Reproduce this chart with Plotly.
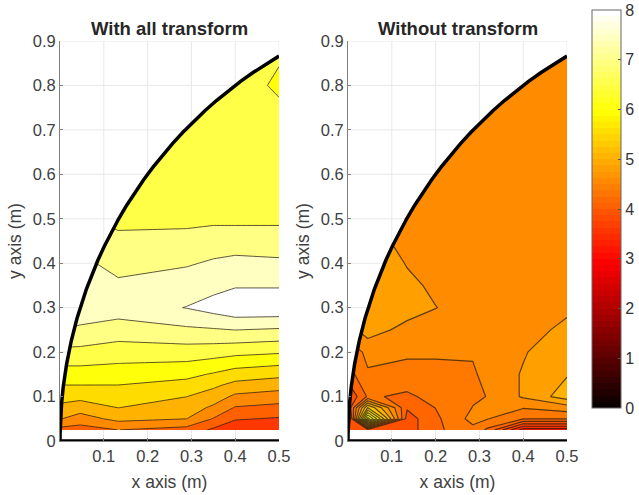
import numpy as np
import plotly.graph_objects as go

# ---------- data ----------
left_x = [0, 0.046, 0.133, 0.289, 0.35, 0.4, 0.5]
left_y = [0.025, 0.05, 0.075, 0.1, 0.125, 0.15, 0.175, 0.2, 0.225, 0.25, 0.3, 0.35, 0.4, 0.45, 0.5, 0.6, 0.7, 0.8, 0.9]
left_z = [
    [4.2, 4.15, 4.36, 4.17, 3.8, 3.54, 3.45],
    [4.85, 4.61, 4.96, 4.83, 4.33, 3.93, 3.84],
    [5.18, 5.05, 5.30, 5.06, 4.74, 4.32, 4.21],
    [5.47, 5.43, 5.53, 5.30, 5.07, 4.73, 4.61],
    [5.755, 5.755, 5.755, 5.6, 5.38, 5.14, 5.01],
    [6.03, 6.03, 6.0, 5.89, 5.72, 5.55, 5.42],
    [6.3, 6.3, 6.24, 6.19, 6.08, 5.95, 5.85],
    [6.6, 6.57, 6.47, 6.49, 6.44, 6.37, 6.29],
    [6.85, 6.84, 6.715, 6.79, 6.79, 6.78, 6.71],
    [7.18, 7.11, 6.96, 7.09, 7.13, 7.18, 7.12],
    [7.4, 7.4, 7.4, 7.66, 7.83, 8.0, 8.0],
    [7.5, 7.5, 7.27, 7.4, 7.5, 7.6, 7.6],
    [7.4, 7.3, 7.0, 7.13, 7.23, 7.3, 7.25],
    [7.2, 7.1, 6.8, 6.9, 6.95, 6.95, 6.95],
    [7.0, 6.72, 6.6, 6.55, 6.6, 6.6, 6.6],
    [6.5, 6.47, 6.47, 6.47, 6.47, 6.47, 6.47],
    [6.47, 6.47, 6.47, 6.47, 6.47, 6.47, 6.47],
    [6.47, 6.47, 6.47, 6.47, 6.47, 6.47, 6.15],
    [6.47, 6.47, 6.47, 6.47, 6.47, 6.47, 6.35],
]

right_x = [0, 0.045, 0.135, 0.2, 0.285, 0.32, 0.4, 0.5]
right_y = [0.025, 0.05, 0.075, 0.1, 0.15, 0.2, 0.25, 0.3, 0.35, 0.4, 0.5, 0.6, 0.7, 0.8, 0.9]
right_z = [
    [3.9, 4.0, 4.0, 4.25, 4.44, 4.25, 3.4, 3.4],
    [3.6, 6.2, 4.0, 4.25, 4.56, 4.5, 4.3, 4.3],
    [3.9, 5.3, 4.12, 4.3, 4.5, 4.55, 4.51, 4.6],
    [3.9, 4.32, 4.26, 4.36, 4.47, 4.5, 4.72, 5.0],
    [4.2, 4.48, 4.42, 4.42, 4.46, 4.58, 4.71, 4.88],
    [4.4, 4.53, 4.53, 4.53, 4.52, 4.6, 4.68, 4.82],
    [4.6, 4.8, 4.62, 4.58, 4.58, 4.6, 4.62, 4.74],
    [4.8, 4.9, 4.8, 4.7, 4.6, 4.6, 4.58, 4.66],
    [4.8, 4.9, 4.75, 4.65, 4.6, 4.6, 4.6, 4.6],
    [4.8, 4.9, 4.68, 4.6, 4.6, 4.6, 4.6, 4.6],
    [4.75, 4.72, 4.6, 4.6, 4.6, 4.6, 4.6, 4.6],
    [4.6, 4.6, 4.6, 4.6, 4.6, 4.6, 4.6, 4.6],
    [4.6, 4.6, 4.6, 4.6, 4.6, 4.6, 4.6, 4.6],
    [4.6, 4.6, 4.6, 4.6, 4.6, 4.6, 4.6, 4.6],
    [4.6, 4.6, 4.6, 4.6, 4.6, 4.6, 4.6, 4.6],
]

arc_x = [0, 0.00015, 0.00061, 0.00137, 0.00381, 0.00745, 0.01519, 0.02563, 0.03874, 0.06031,
         0.07282, 0.08645, 0.10121, 0.11705, 0.13397, 0.15195, 0.17096, 0.19098, 0.21199, 0.23396,
         0.25686, 0.28066, 0.30534, 0.33087, 0.35721, 0.38434, 0.41221, 0.44081, 0.47008, 0.5]
arc_y = [0, 0.01745, 0.0349, 0.05234, 0.08716, 0.12187, 0.17365, 0.22495, 0.27564, 0.34202,
         0.37461, 0.40674, 0.43837, 0.46947, 0.5, 0.52992, 0.55919, 0.58779, 0.61566, 0.64279,
         0.66913, 0.69466, 0.71934, 0.74314, 0.76604, 0.78801, 0.80902, 0.82904, 0.84805, 0.86603]

x_ticks = [0.1, 0.2, 0.3, 0.4, 0.5]
y_ticks = [0, 0.1, 0.2, 0.3, 0.4, 0.5, 0.6, 0.7, 0.8, 0.9]
y_labels = ["0", "0.1", "0.2", "0.3", "0.4", "0.5", "0.6", "0.7", "0.8", "0.9"]
cbar_ticks = [0, 1, 2, 3, 4, 5, 6, 7, 8]
titles = ["With all transform", "Without transform"]
x_label = "x axis (m)"
y_label = "y axis (m)"

# ---------- styling ----------
W, H = 639, 495
FONT = "Liberation Sans"
TXT = "#404040"
GRID = "#e8e8e8"


def hot(v):
    r = min(1, v / 3)
    g = min(1, max(0, (v - 3) / 3))
    b = min(1, max(0, (v - 6) / 2))
    return f"rgb({round(r*255)},{round(g*255)},{round(b*255)})"


def band_scale(start, size, n_levels, pivot, target, gain):
    """Band colours: the band centred on `pivot` takes hot(target); others spread by `gain`."""
    nc = n_levels
    return [[i / nc, hot(target + (start + (i - 0.5) * size - pivot) * gain)] for i in range(nc + 1)]


def stepped_hot(n=64):
    out = []
    for i in range(n):
        c = hot(8 * (i + 1) / n)
        out += [[i / n, c], [(i + 1) / n, c]]
    return out


fig = go.Figure()

panels = [
    dict(x=left_x, y=left_y, z=left_z, start=3.885, size=0.47, n=9,
         pivot=3.65, target=3.65, gain=1.03, lw=1.0, xa="x", ya="y"),
    dict(x=right_x, y=right_y, z=right_z, start=3.295, size=0.2, n=15,
         pivot=4.595, target=4.65, gain=1.15, lw=1.2, xa="x2", ya="y2"),
]

for p in panels:
    fig.add_trace(go.Contour(
        x=p["x"], y=p["y"], z=p["z"], xaxis=p["xa"], yaxis=p["ya"],
        autocontour=False,
        contours=dict(start=p["start"], end=p["start"] + p["size"] * (p["n"] - 1) + 0.005,
                      size=p["size"], coloring="fill", showlines=True),
        colorscale=band_scale(p["start"], p["size"], p["n"], p["pivot"], p["target"], p["gain"]),
        line=dict(color="rgba(40,30,20,0.75)", width=p["lw"], smoothing=0),
        showscale=False, hoverinfo="skip",
    ))
    # white mask outside the arc
    fig.add_trace(go.Scatter(
        x=arc_x + [0.5, 0, 0], y=arc_y + [0.9, 0.9, 0], xaxis=p["xa"], yaxis=p["ya"],
        mode="lines", fill="toself", fillcolor="white", line=dict(width=0),
        hoverinfo="skip", showlegend=False,
    ))
    # grid lines in the masked region, derived from the ticks and the arc
    gx, gy = [], []
    for t in x_ticks:
        gx += [t, t, None]
        gy += [float(np.interp(t, arc_x, arc_y)), 0.9, None]
    for t in y_ticks[1:]:
        gx += [0, float(np.interp(t, arc_y, arc_x)) if t <= arc_y[-1] else 0.5, None]
        gy += [t, t, None]
    fig.add_trace(go.Scatter(
        x=gx, y=gy, xaxis=p["xa"], yaxis=p["ya"], mode="lines",
        line=dict(color=GRID, width=1), hoverinfo="skip", showlegend=False,
    ))
    # thick black boundary
    fig.add_trace(go.Scatter(
        x=[0.5] + arc_x, y=[0] + arc_y, xaxis=p["xa"], yaxis=p["ya"], mode="lines",
        line=dict(color="black", width=3.5), cliponaxis=False, hoverinfo="skip", showlegend=False,
    ))

# colour bar
fig.add_trace(go.Scatter(
    x=[0.25, 0.25], y=[0.5, 0.5], mode="markers", hoverinfo="skip", showlegend=False,
    marker=dict(size=1, opacity=0, color=[cbar_ticks[0], cbar_ticks[-1]], cmin=0, cmax=8,
                colorscale=stepped_hot(), showscale=True,
                colorbar=dict(thickness=29, thicknessmode="pixels", len=398, lenmode="pixels",
                              x=592 / W, xanchor="left", xpad=0,
                              y=1 - 209 / H, yanchor="middle", ypad=0,
                              tickmode="array", tickvals=cbar_ticks, ticktext=[str(c) for c in cbar_ticks],
                              ticks="inside", ticklen=3, tickcolor="#555555",
                              outlinecolor="#666666", outlinewidth=1,
                              tickfont=dict(family=FONT, size=16, color="#333333"))),
))

axis_common = dict(showgrid=True, gridcolor=GRID, gridwidth=1, zeroline=False, showline=True,
                   linecolor="#808080", linewidth=1, ticks="inside", ticklen=3, tickcolor="#808080",
                   tickfont=dict(family=FONT, size=16.5, color=TXT))


def xax(dom, anchor):
    return dict(axis_common, domain=[dom[0] / W, dom[1] / W], range=[0, 0.5], anchor=anchor,
                tickmode="array", tickvals=x_ticks, ticktext=[str(t) for t in x_ticks],
                title=dict(text=x_label, standoff=11, font=dict(family=FONT, size=17.5, color=TXT)))


def yax(anchor):
    return dict(axis_common, domain=[1 - 441 / H, 1 - 41 / H], range=[0, 0.9], anchor=anchor,
                tickmode="array", tickvals=y_ticks, ticktext=y_labels,
                title=dict(text=y_label, standoff=6, font=dict(family=FONT, size=17.5, color=TXT)))


fig.update_layout(
    width=W, height=H, autosize=False,
    margin=dict(l=0, r=0, t=0, b=0, autoexpand=False),
    paper_bgcolor="white", plot_bgcolor="white", showlegend=False,
    xaxis=xax((60, 279), "y"), yaxis=yax("x"),
    xaxis2=xax((348, 567), "y2"), yaxis2=yax("x2"),
    annotations=[
        dict(text=f"<b>{titles[0]}</b>", xref="paper", yref="paper", x=169.5 / W, y=1 - 28 / H,
             xanchor="center", yanchor="middle", showarrow=False,
             font=dict(family=FONT, size=18.5, color="#262626")),
        dict(text=f"<b>{titles[1]}</b>", xref="paper", yref="paper", x=457.5 / W, y=1 - 28 / H,
             xanchor="center", yanchor="middle", showarrow=False,
             font=dict(family=FONT, size=18.5, color="#262626")),
    ],
)

fig.write_html("out.html", config={"displayModeBar": False},
               post_script="document.body.style.margin='0';")
